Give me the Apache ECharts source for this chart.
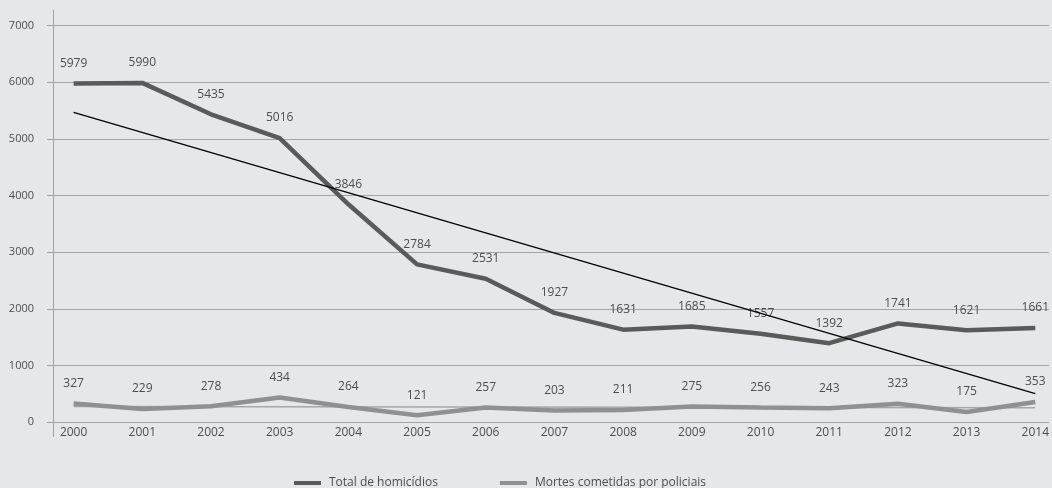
<!DOCTYPE html>
<html>
<head>
<meta charset="utf-8">
<script src="https://cdn.jsdelivr.net/npm/echarts@6/dist/echarts.min.js"></script>
<style>
  html, body { margin: 0; padding: 0; background: #e6e7e8; }
  #chart { width: 1052px; height: 488px; }
</style>
</head>
<body>
<div id="chart"></div>
<script>
// Anos da série
const years = [2000, 2001, 2002, 2003, 2004, 2005, 2006, 2007, 2008, 2009, 2010, 2011, 2012, 2013, 2014];
// Total de homicídios por ano
const totalHomicidios = [5979, 5990, 5435, 5016, 3846, 2784, 2531, 1927, 1631, 1685, 1557, 1392, 1741, 1621, 1661];
// Mortes cometidas por policiais por ano
const mortesPoliciais = [327, 229, 278, 434, 264, 121, 257, 203, 211, 275, 256, 243, 323, 175, 353];
// Linhas de tendência: valor no primeiro e no último ano
const tendenciaTotal = [5471, 502];
const tendenciaPoliciais = [274, 252];
// Marcas do eixo vertical
const yTicks = [0, 1000, 2000, 3000, 4000, 5000, 6000, 7000];

const textColor = '#4d4d4d';
const font = '"Open Sans", "Noto Sans", sans-serif';

const pairs = vals => years.map((y, i) => [y, vals[i]]);
const trend = ends => [[years[0], ends[0]], [years[years.length - 1], ends[1]]];

const chart = echarts.init(document.getElementById('chart'), null, { renderer: 'canvas' });

const dataLabel = {
  show: true,
  position: 'top',
  distance: 14,
  color: textColor,
  fontFamily: font,
  fontSize: 12,
  formatter: p => String(p.value[1])
};

chart.setOption({
  backgroundColor: '#e6e7e8',
  animation: false,
  textStyle: { fontFamily: font },
  grid: { left: 53, right: 0, top: 25.7, bottom: 66 },
  xAxis: {
    type: 'value',
    min: 1999.7,
    max: 2014.2,
    axisLine: { show: false },
    axisTick: { show: false },
    splitLine: { show: false },
    axisLabel: {
      customValues: years,
      formatter: v => String(v),
      color: textColor,
      fontFamily: font,
      fontSize: 12,
      margin: 5
    }
  },
  yAxis: {
    type: 'value',
    min: yTicks[0],
    max: yTicks[yTicks.length - 1],
    interval: 1000,
    axisLine: { show: false },
    axisTick: { show: true, length: 6, lineStyle: { color: '#a3a3a3', width: 1 } },
    splitLine: { show: true, lineStyle: { color: '#a3a3a3', width: 1 } },
    axisLabel: {
      formatter: v => String(v),
      color: textColor,
      fontFamily: font,
      fontSize: 11,
      margin: 19,
      padding: [0, 0, 8, 0]
    }
  },
  legend: {
    left: 289,
    top: 472,
    itemWidth: 27,
    itemHeight: 4,
    itemGap: 62,
    icon: 'rect',
    textStyle: { color: textColor, fontFamily: font, fontSize: 12, padding: [0, 0, 0, 3] },
    data: ['Total de homicídios', 'Mortes cometidas por policiais']
  },
  series: [
    {
      name: 'Total de homicídios',
      type: 'line',
      data: pairs(totalHomicidios),
      symbol: 'circle',
      symbolSize: 0.1,
      showSymbol: true,
      lineStyle: { color: '#5a5a5a', width: 4.5 },
      itemStyle: { color: '#5a5a5a' },
      label: dataLabel,
      z: 4
    },
    {
      name: 'Mortes cometidas por policiais',
      type: 'line',
      data: pairs(mortesPoliciais),
      symbol: 'circle',
      symbolSize: 0.1,
      showSymbol: true,
      lineStyle: { color: '#909090', width: 4.5 },
      itemStyle: { color: '#909090' },
      label: dataLabel,
      z: 3
    },
    {
      name: 'tendência total',
      type: 'line',
      data: trend(tendenciaTotal),
      symbol: 'none',
      lineStyle: { color: '#000000', width: 1.3 },
      silent: true,
      z: 5
    },
    {
      name: 'tendência policiais',
      type: 'line',
      data: trend(tendenciaPoliciais),
      symbol: 'none',
      lineStyle: { color: '#a6a6a6', width: 1.5 },
      silent: true,
      z: 2
    }
  ]
});

// Eixo vertical prolongado um pouco acima e abaixo da área de plotagem
const axisTopY = chart.convertToPixel({ yAxisIndex: 0 }, yTicks[yTicks.length - 1]);
const axisBottomY = chart.convertToPixel({ yAxisIndex: 0 }, yTicks[0]);
const axisX = chart.convertToPixel({ xAxisIndex: 0 }, 1999.7);
chart.setOption({
  graphic: [{
    type: 'line',
    shape: { x1: Math.round(axisX) + 0.5, y1: axisTopY - 16, x2: Math.round(axisX) + 0.5, y2: axisBottomY + 15 },
    style: { stroke: '#a3a3a3', lineWidth: 1 },
    z: 1
  }]
});
</script>
</body>
</html>
